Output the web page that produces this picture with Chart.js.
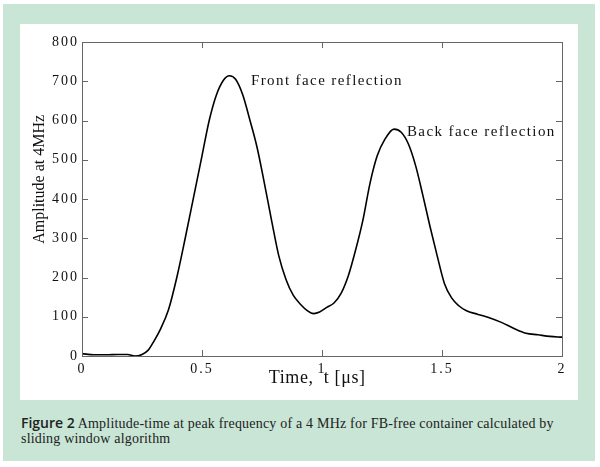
<!DOCTYPE html>
<html lang="en">
<head>
<meta charset="UTF-8">
<title>Amplitude-time at 4 MHz</title>
<script src="https://cdn.jsdelivr.net/npm/chart.js"></script>
<style>
  body { margin: 0; background: #fff; }
  .frame { position: absolute; left: 3px; top: 4px; width: 592px; height: 457px; background: #c8e5d5; }
  .panel { position: absolute; left: 17px; top: 20px; width: 558px; height: 376px; background: #fff; }
  .caption { position: absolute; left: 18px; top: 411px; width: 545px; font: 14px "Liberation Serif"; letter-spacing: 0.2px; line-height: 15px; color: #222; }
  .caption b { font-family: "Open Sans"; font-weight: 600; font-size: 14px; letter-spacing: 0; }
</style>
</head>
<body>
<div class="frame">
  <div class="panel"><canvas id="chart" width="558" height="376"></canvas></div>
  <div class="caption"><b>Figure 2</b> Amplitude-time at peak frequency of a 4 MHz for FB-free container calculated by sliding window algorithm</div>
</div>
<script>
// time in microseconds and amplitude
const timeUs = [0, 0.05, 0.1, 0.15, 0.19, 0.22, 0.25, 0.276, 0.3, 0.325, 0.36, 0.395, 0.43, 0.465, 0.5,
  0.53, 0.56, 0.59, 0.614, 0.64, 0.67, 0.7, 0.73, 0.76, 0.79, 0.82, 0.85, 0.88, 0.91, 0.94, 0.965, 0.99,
  1.02, 1.05, 1.08, 1.11, 1.14, 1.17, 1.2, 1.23, 1.26, 1.3, 1.33, 1.36, 1.39, 1.42, 1.45, 1.48, 1.51,
  1.54, 1.57, 1.6, 1.65, 1.7, 1.75, 1.8, 1.85, 1.9, 1.95, 2.0];
const amplitude = [6, 3, 3, 4, 4, 0, 4, 15, 38, 66, 117, 200, 300, 405, 510,
  600, 665, 703, 714, 705, 665, 600, 530, 440, 345, 255, 195, 155, 132, 115, 108, 112,
  124, 135, 160, 205, 270, 345, 440, 510, 550, 578, 570, 540, 485, 410, 330, 255, 185,
  148, 128, 116, 106, 97, 85, 70, 58, 54, 50, 48];
const xTicks = [0, 0.5, 1, 1.5, 2];
const yTicks = [0, 100, 200, 300, 400, 500, 600, 700, 800];
const notes = [
  { text: 'Front face reflection', t: 0.704, a: 701 },
  { text: 'Back face reflection', t: 1.354, a: 571 }
];

const serif = '"Liberation Serif", "Times New Roman", serif';

const decor = {
  id: 'decor',
  beforeDraw(chart) {
    chart.ctx.letterSpacing = '2px';
  },
  afterDraw(chart) {
    const { ctx, chartArea: a, scales: { x, y } } = chart;
    ctx.save();
    ctx.strokeStyle = '#666';
    ctx.lineWidth = 1;
    ctx.strokeRect(a.left + 0.5, a.top + 0.5, a.width, a.height);
    ctx.beginPath();
    xTicks.slice(1, -1).forEach(v => {
      const px = Math.round(x.getPixelForValue(v)) + 0.5;
      ctx.moveTo(px, a.bottom); ctx.lineTo(px, a.bottom - 6);
      ctx.moveTo(px, a.top); ctx.lineTo(px, a.top + 6);
    });
    yTicks.slice(1, -1).forEach(v => {
      const py = Math.round(y.getPixelForValue(v)) + 0.5;
      ctx.moveTo(a.left, py); ctx.lineTo(a.left + 6, py);
      ctx.moveTo(a.right, py); ctx.lineTo(a.right - 6, py);
    });
    ctx.stroke();

    ctx.fillStyle = '#111';
    ctx.letterSpacing = '1.4px';
    ctx.font = '15px ' + serif;
    ctx.textAlign = 'left';
    ctx.textBaseline = 'middle';
    notes.forEach(n => ctx.fillText(n.text, x.getPixelForValue(n.t), y.getPixelForValue(n.a)));

    ctx.letterSpacing = '0.6px';
    ctx.font = '18px ' + serif;
    ctx.textAlign = 'center';
    ctx.textBaseline = 'alphabetic';
    ctx.fillText('Time,  t [\u03bcs]', x.getPixelForValue(0.98), a.bottom + 27);

    ctx.letterSpacing = '0px';
    ctx.font = '16px ' + serif;
    ctx.translate(20, y.getPixelForValue(450));
    ctx.rotate(-Math.PI / 2);
    ctx.textBaseline = 'middle';
    ctx.fillText('Amplitude at 4MHz', 0, 0);
    ctx.restore();
  }
};

new Chart(document.getElementById('chart'), {
  type: 'line',
  data: {
    datasets: [{
      data: timeUs.map((t, i) => ({ x: t, y: amplitude[i] })),
      borderColor: '#000',
      borderWidth: 1.6,
      pointRadius: 0,
      fill: false,
      cubicInterpolationMode: 'monotone'
    }]
  },
  options: {
    responsive: false,
    animation: false,
    layout: { padding: { top: 18, right: 16, left: 0, bottom: 0 } },
    plugins: { legend: { display: false }, tooltip: { enabled: false } },
    scales: {
      x: {
        type: 'linear', min: 0, max: 2,
        afterBuildTicks: s => { s.ticks = xTicks.map(v => ({ value: v })); },
        afterFit: s => { s.height = 44; },
        grid: { display: false, drawTicks: false },
        border: { display: false },
        ticks: { padding: 5, maxRotation: 0, autoSkip: false, color: '#111', font: { family: serif, size: 14 }, callback: v => String(v) }
      },
      y: {
        min: 0, max: 800,
        afterBuildTicks: s => { s.ticks = yTicks.map(v => ({ value: v })); },
        afterFit: s => { s.width = 62; },
        grid: { display: false, drawTicks: false },
        border: { display: false },
        ticks: { padding: 3, autoSkip: false, color: '#111', font: { family: serif, size: 14 }, callback: v => String(v) }
      }
    }
  },
  plugins: [decor]
});
</script>
</body>
</html>
